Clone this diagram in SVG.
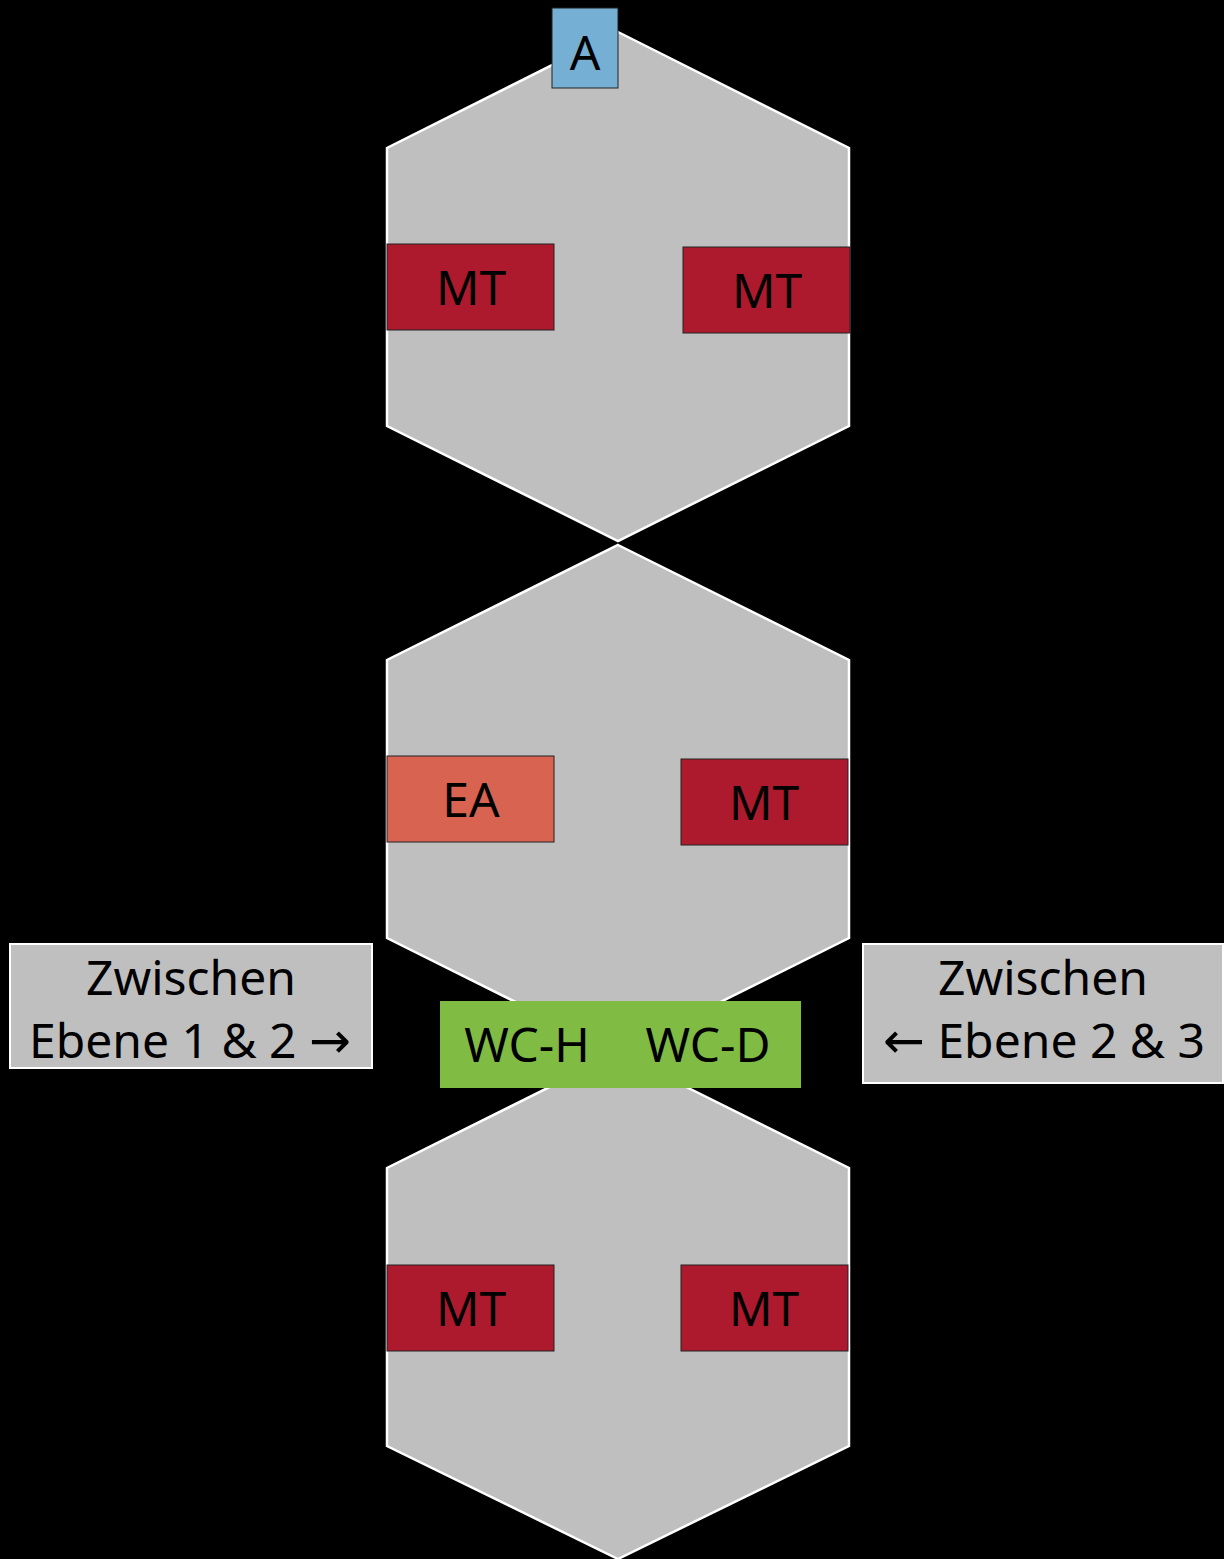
<svg xmlns="http://www.w3.org/2000/svg" width="1224" height="1559" viewBox="0 0 1224 1559">
<style>
.hex{fill:#bfbfbf;stroke:#ffffff;stroke-width:2.5}
.mt{fill:#ae1a2d;stroke:#222;stroke-width:1}
.t{font-family:"Noto Sans","Open Sans",sans-serif;font-size:48px;fill:#000;text-anchor:middle}
.arr{font-family:"DejaVu Sans",sans-serif;font-size:50px}
.lbl{fill:#bfbfbf;stroke:#ffffff;stroke-width:2}
</style>
<rect width="1224" height="1559" fill="#000"/>
<g id="hex1"><polygon class="hex" points="618,32 849,148 849,426 618,541 387,426 387,148"/></g>
<g id="hex2"><polygon class="hex" points="618,545 849,660 849,938 618,1053 387,938 387,660"/></g>
<g id="hex3"><polygon class="hex" points="618,1053 849,1168 849,1446 618,1559 387,1446 387,1168"/></g>
<g id="connectors"></g>
<g id="A"><rect x="552" y="8" width="66" height="80" fill="#75afd3" stroke="#222" stroke-width="1"/><text class="t" x="585" y="70">A</text></g>
<g id="mt1"><rect class="mt" x="387" y="244" width="167" height="86"/><text class="t" x="471" y="305">MT</text></g>
<g id="mt2"><rect class="mt" x="683" y="247" width="167" height="86"/><text class="t" x="767" y="308">MT</text></g>
<g id="ea"><rect x="387" y="756" width="167" height="86" fill="#d76350" stroke="#222" stroke-width="1"/><text class="t" x="471" y="817">EA</text></g>
<g id="mt3"><rect class="mt" x="681" y="759" width="167" height="86"/><text class="t" x="764" y="820">MT</text></g>
<g id="mt4"><rect class="mt" x="387" y="1265" width="167" height="86"/><text class="t" x="471" y="1326">MT</text></g>
<g id="mt5"><rect class="mt" x="681" y="1265" width="167" height="86"/><text class="t" x="764" y="1326">MT</text></g>
<g id="wc"><rect x="440" y="1001" width="361" height="87" fill="#80bc43"/><text class="t" x="527" y="1062">WC-H</text><text class="t" x="708" y="1062">WC-D</text></g>
<g id="label-left"><rect class="lbl" x="10" y="944" width="362" height="124"/><text class="t" x="191" y="995">Zwischen</text><text class="t" x="190" y="1058">Ebene 1 &amp; 2 <tspan class="arr">→</tspan></text></g>
<g id="label-right"><rect class="lbl" x="863" y="944" width="360" height="139"/><text class="t" x="1043" y="995">Zwischen</text><text class="t" x="1044" y="1058"><tspan class="arr">←</tspan> Ebene 2 &amp; 3</text></g>
</svg>
